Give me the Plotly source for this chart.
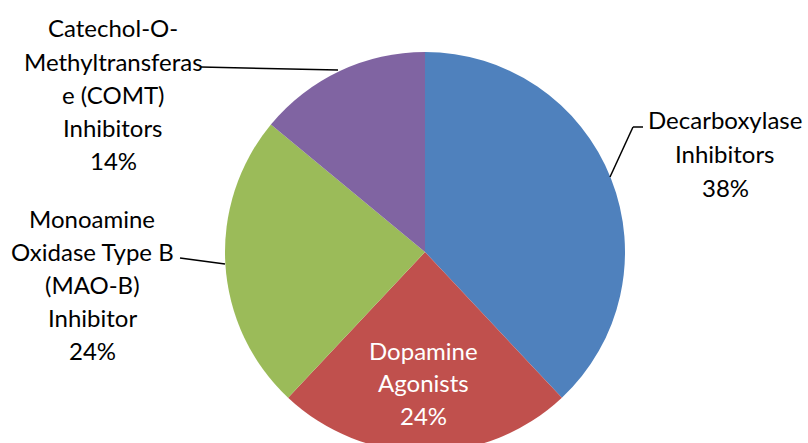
import plotly.graph_objects as go

# ---- data ----
categories = [
    "Decarboxylase Inhibitors",
    "Dopamine Agonists",
    "Monoamine Oxidase Type B (MAO-B) Inhibitor",
    "Catechol-O-Methyltransferase (COMT) Inhibitors",
]
values = [38, 24, 24, 14]
label_lines = [
    ["Decarboxylase", "Inhibitors"],
    ["Dopamine", "Agonists"],
    ["Monoamine", "Oxidase Type B", "(MAO-B)", "Inhibitor"],
    ["Catechol-O-", "Methyltransferas", "e (COMT)", "Inhibitors"],
]
colors = ["#4F81BD", "#C0504D", "#9BBB59", "#8064A2"]

# ---- layout geometry (pixels) ----
W, H, VIS_H = 808, 462, 443
CX, CY, R = 425, 252, 200
FONT = "Lato"
FS = 24

def px(x):
    return x / W

def py(y):
    return 1 - y / H

fig = go.Figure(go.Pie(
    labels=categories,
    values=values,
    sort=False,
    direction="clockwise",
    rotation=0,
    marker=dict(colors=colors, line=dict(width=0)),
    textinfo="none",
    hoverinfo="label+percent",
    domain=dict(x=[px(CX - R), px(CX + R)], y=[py(CY + R), py(CY - R)]),
    showlegend=False,
))

total = sum(values)
# label block placement: (center x, first line y, line spacing, colour)
placements = [
    (725, 119, 34, "black"),
    (423, 350, 32.5, "white"),
    (92, 218, 33, "black"),
    (113, 28, 33, "black"),
]
annotations = []
for lines, v, (x, y0, dy, col) in zip(label_lines, values, placements):
    full = lines + [f"{round(100 * v / total)}%"]
    for i, t in enumerate(full):
        annotations.append(dict(
            text=t, x=px(x), y=py(y0 + i * dy), xref="paper", yref="paper",
            xanchor="center", yanchor="middle", showarrow=False,
            font=dict(family=FONT, size=FS, color=col),
        ))

line_style = dict(color="black", width=1.5)
shapes = [
    # Decarboxylase leader
    dict(type="line", xref="paper", yref="paper", x0=px(643), y0=py(127), x1=px(633), y1=py(127), line=line_style),
    dict(type="line", xref="paper", yref="paper", x0=px(633), y0=py(127), x1=px(610), y1=py(177), line=line_style),
    # MAO-B leader
    dict(type="line", xref="paper", yref="paper", x0=px(180), y0=py(258), x1=px(225), y1=py(264), line=line_style),
    # COMT leader
    dict(type="line", xref="paper", yref="paper", x0=px(201), y0=py(67), x1=px(338), y1=py(70), line=line_style),
]

fig.update_layout(
    width=W, height=H,
    margin=dict(l=0, r=0, t=0, b=0),
    paper_bgcolor="white",
    plot_bgcolor="white",
    annotations=annotations,
    shapes=shapes,
    font=dict(family=FONT, size=FS, color="black"),
)

post = (
    "var gd=document.getElementById('{plot_id}');"
    "gd.parentElement.style.height='%dpx';gd.parentElement.style.overflow='hidden';"
    "document.body.style.margin='0';document.body.style.overflow='hidden';"
    "document.documentElement.style.overflow='hidden';" % VIS_H
)
fig.write_html("out.html", post_script=post, config={"displayModeBar": False})
